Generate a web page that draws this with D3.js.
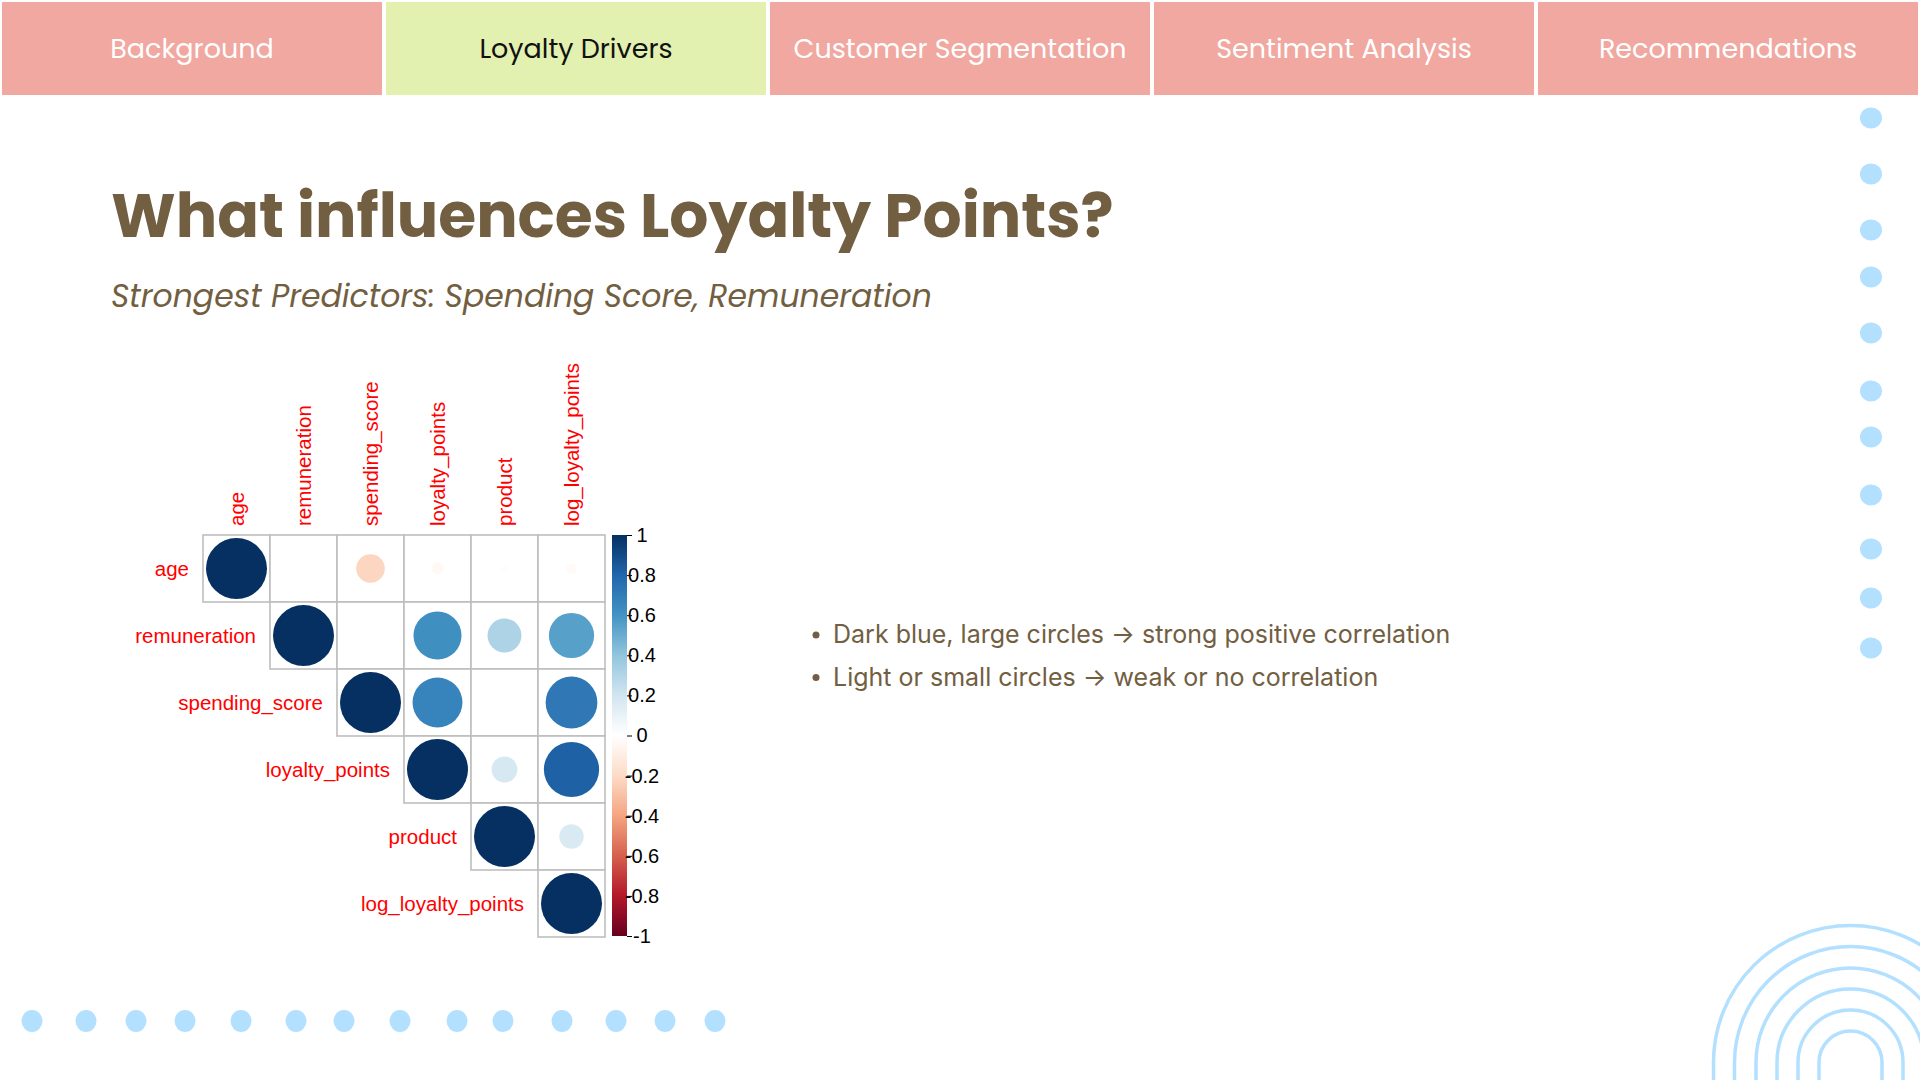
<!DOCTYPE html>
<html>
<head>
<meta charset="utf-8">
<script src="https://cdn.jsdelivr.net/npm/d3@7"></script>
<style>
  body { margin: 0; background: #fff; }
  svg { display: block; }
</style>
</head>
<body>
<div id="slide"></div>
<script>
// Slide text
const tabs = ["Background", "Loyalty Drivers", "Customer Segmentation", "Sentiment Analysis", "Recommendations"];
const activeTab = "Loyalty Drivers";
const titleText = "What influences Loyalty Points?";
const subtitleText = "Strongest Predictors: Spending Score, Remuneration";
const bullets = [
  "Dark blue, large circles \u2192 strong positive correlation",
  "Light or small circles \u2192 weak or no correlation"
];

// Correlation matrix
const vars = ["age", "remuneration", "spending_score", "loyalty_points", "product", "log_loyalty_points"];
const corr = [
  [ 1.00,  0.005, -0.22, -0.04, -0.01, -0.03],
  [ 0.005, 1.00,   0.006, 0.62,  0.31,  0.55],
  [-0.22,  0.006,  1.00,  0.67,  0.004, 0.72],
  [-0.04,  0.62,   0.67,  1.00,  0.18,  0.82],
  [-0.01,  0.31,   0.004, 0.18,  1.00,  0.16],
  [-0.03,  0.55,   0.72,  0.82,  0.16,  1.00]
];
const legendTicks = [1, 0.8, 0.6, 0.4, 0.2, 0, -0.2, -0.4, -0.6, -0.8, -1];
const rdbu = ["#67001F", "#B2182B", "#D6604D", "#F4A582", "#FDDBC7", "#FFFFFF",
              "#D1E5F0", "#92C5DE", "#4393C3", "#2166AC", "#053061"];

// decoration
const rightDotsY = [118, 174, 230, 277, 333, 391, 437, 495, 549, 598, 648];
const bottomDotsX = [32, 86, 136, 185, 241, 296, 344, 400, 457, 503, 562, 616, 665, 715];
const archRadii = [31.5, 52.5, 73.5, 94.5, 116, 137];

const width = 1920, height = 1080;
const brown = "#725E41";
const dotBlue = "#B3E0FF";

const svg = d3.select("#slide")
  .append("svg")
  .attr("width", width)
  .attr("height", height);

// Top navigation tabs
const tabX = d3.scaleBand()
  .domain(tabs)
  .range([2, 1918])
  .paddingInner(4 / 384);

const tabG = svg.selectAll(".tab")
  .data(tabs)
  .enter()
  .append("g")
  .attr("transform", d => `translate(${tabX(d)},2)`);

tabG.append("rect")
  .attr("width", tabX.bandwidth())
  .attr("height", 93)
  .attr("fill", d => d === activeTab ? "#E2F0B0" : "#F0A8A0");

tabG.append("text")
  .attr("x", tabX.bandwidth() / 2)
  .attr("y", 56)
  .attr("text-anchor", "middle")
  .style("font-family", "Poppins, Lato, sans-serif")
  .style("font-size", "27px")
  .attr("fill", d => d === activeTab ? "#111" : "#fff")
  .text(d => d);

// Title and subtitle
svg.append("text")
  .attr("x", 111)
  .attr("y", 237)
  .style("font-family", "Poppins, Inter, sans-serif")
  .style("font-weight", 700)
  .style("font-size", "61.5px")
  .attr("fill", brown)
  .text(titleText);

svg.append("text")
  .attr("x", 111)
  .attr("y", 307)
  .style("font-family", "Poppins, Inter, sans-serif")
  .style("font-style", "italic")
  .style("font-size", "31.5px")
  .attr("fill", brown)
  .text(subtitleText);

// Corrplot
const cell = 67;
const x = d3.scaleBand().domain(vars).range([203, 203 + cell * vars.length]);
const y = d3.scaleBand().domain(vars).range([535, 535 + cell * vars.length]);
const color = d3.scaleLinear()
  .domain(d3.range(rdbu.length).map(i => -1 + i * 0.2))
  .range(rdbu);
const rScale = d3.scaleSqrt().domain([0, 1]).range([0, 30.5]);

const cells = [];
corr.forEach((row, i) => {
  row.forEach((v, j) => {
    if (j >= i) cells.push({ row: vars[i], col: vars[j], value: v });
  });
});

const plot = svg.append("g");

plot.selectAll(".cell")
  .data(cells)
  .enter()
  .append("rect")
  .attr("x", d => x(d.col))
  .attr("y", d => y(d.row))
  .attr("width", x.bandwidth())
  .attr("height", y.bandwidth())
  .attr("fill", "#fff")
  .attr("stroke", "#BEBEBE")
  .attr("stroke-width", 1.6);

plot.selectAll(".dot")
  .data(cells)
  .enter()
  .append("circle")
  .attr("cx", d => x(d.col) + x.bandwidth() / 2)
  .attr("cy", d => y(d.row) + y.bandwidth() / 2)
  .attr("r", d => rScale(Math.abs(d.value)))
  .attr("fill", d => color(d.value));

// row labels
plot.selectAll(".rowlab")
  .data(vars)
  .enter()
  .append("text")
  .attr("x", d => x(d) - 14)
  .attr("y", d => y(d) + y.bandwidth() / 2)
  .attr("text-anchor", "end")
  .attr("dominant-baseline", "central")
  .style("font-family", "'Liberation Sans', Arial, sans-serif")
  .style("font-size", "20.5px")
  .attr("fill", "#FF0000")
  .text(d => d);

// column labels
plot.selectAll(".collab")
  .data(vars)
  .enter()
  .append("text")
  .attr("transform", d => `translate(${x(d) + x.bandwidth() / 2},526) rotate(-90)`)
  .attr("dominant-baseline", "central")
  .style("font-family", "'Liberation Sans', Arial, sans-serif")
  .style("font-size", "20.5px")
  .attr("fill", "#FF0000")
  .text(d => d);

// colour legend
const legY = d3.scaleLinear().domain([-1, 1]).range([936, 535]);
const grad = svg.append("defs").append("linearGradient")
  .attr("id", "rdbu")
  .attr("x1", 0).attr("y1", 1)
  .attr("x2", 0).attr("y2", 0);
grad.selectAll("stop")
  .data(color.domain())
  .enter()
  .append("stop")
  .attr("offset", d => (d + 1) / 2)
  .attr("stop-color", d => color(d));

svg.append("rect")
  .attr("x", 612)
  .attr("y", legY(1))
  .attr("width", 15)
  .attr("height", legY(-1) - legY(1))
  .attr("fill", "url(#rdbu)");

const legAxis = svg.append("g")
  .attr("transform", "translate(627,0)")
  .call(d3.axisRight(legY).tickValues(legendTicks).tickSize(5).tickFormat(d => String(d)));
legAxis.select(".domain").remove();
legAxis.selectAll("line").attr("stroke", "#000");
legAxis.selectAll("text")
  .attr("x", 15)
  .attr("text-anchor", "middle")
  .style("font-family", "'Liberation Sans', Arial, sans-serif")
  .style("font-size", "20px")
  .attr("fill", "#000");

// Bullet notes
const notes = svg.append("g");
bullets.forEach((b, i) => {
  const by = 643 + i * 42.5;
  notes.append("circle")
    .attr("cx", 816)
    .attr("cy", by - 8)
    .attr("r", 3.5)
    .attr("fill", brown);
  notes.append("text")
    .attr("x", 833)
    .attr("y", by)
    .style("font-family", "Inter, sans-serif")
    .style("font-size", "25px")
    .attr("fill", brown)
    .text(b);
});

// Decorative dots
svg.selectAll(".rdot")
  .data(rightDotsY)
  .enter()
  .append("ellipse")
  .attr("cx", 1871)
  .attr("cy", d => d)
  .attr("rx", 11)
  .attr("ry", 10.5)
  .attr("fill", dotBlue);

svg.selectAll(".bdot")
  .data(bottomDotsX)
  .enter()
  .append("ellipse")
  .attr("cx", d => d)
  .attr("cy", 1021)
  .attr("rx", 10.5)
  .attr("ry", 11)
  .attr("fill", dotBlue);

// Concentric arches, bottom right
const cx = 1850.5, cy = 1062.5;
svg.selectAll(".arch")
  .data(archRadii)
  .enter()
  .append("path")
  .attr("d", r => `M${cx - r},1090 L${cx - r},${cy} A${r},${r} 0 0 1 ${cx + r},${cy} L${cx + r},1090`)
  .attr("fill", "none")
  .attr("stroke", dotBlue)
  .attr("stroke-width", 3.5);
</script>
</body>
</html>
